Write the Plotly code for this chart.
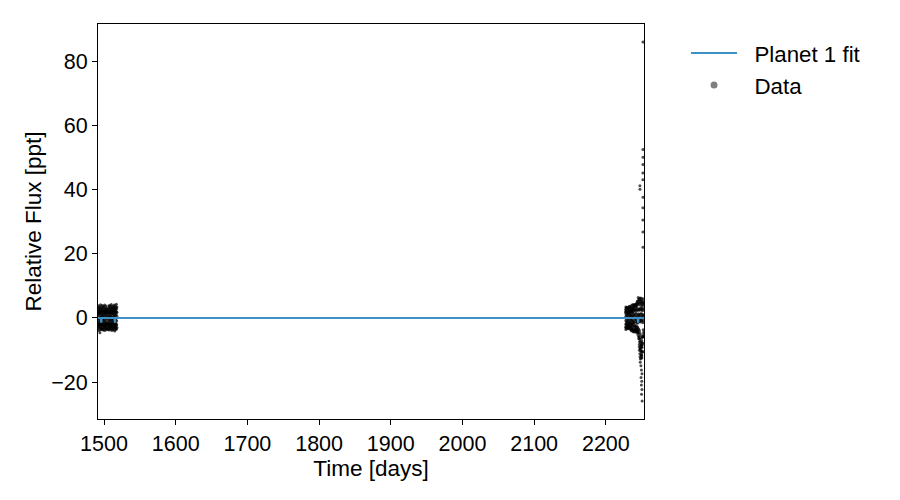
import plotly.graph_objects as go

# ---- data (days, ppt) ----
t_c1 = [1491.7, 1492.1, 1492.5, 1493.0, 1493.4, 1493.9, 1494.3, 1494.7, 1495.2, 1495.6,
        1496.1, 1496.5, 1496.9, 1497.4, 1497.8, 1498.3, 1498.7, 1499.1, 1499.6, 1500.0,
        1500.5, 1500.9, 1501.3, 1501.8, 1502.2, 1502.7, 1503.1, 1503.5, 1504.0, 1504.4,
        1504.9, 1505.3, 1505.7, 1506.2, 1506.6, 1507.1, 1507.5, 1507.9, 1508.4, 1508.8,
        1509.3, 1509.7, 1510.1, 1510.6, 1511.0, 1511.5, 1511.9, 1512.3, 1512.8, 1513.2,
        1513.7, 1514.1, 1514.5, 1515.0, 1515.4, 1515.9, 1516.3, 1516.7, 1517.2, 1517.6, 1518.0]
f_c1_a = [3.1, 2.4, 3.8, 2.9, 1.7, 3.5, 2.2, 3.0, 4.1, 2.6, 1.9, 3.3, 2.8, 3.9, 2.1, 3.4, 2.7, 1.8, 3.6, 2.5,
          3.2, 4.0, 2.3, 2.9, 1.6, 3.7, 2.4, 3.1, 2.0, 2.6, 1.5, 2.2, 1.8, 3.0, 3.8, 2.7, 3.4, 2.1, 3.9, 2.8,
          3.3, 2.5, 4.2, 3.0, 2.2, 3.6, 2.9, 1.9, 3.5, 2.4, 3.1, 4.0, 2.7, 3.3, 2.0, 3.8, 2.6, 3.2, 4.3, 2.8, 3.4]
f_c1_b = [0.4, -0.8, 1.2, -0.3, 0.9, -1.1, 0.2, 1.4, -0.6, 0.7, -1.3, 0.1, 1.0, -0.4, 0.6, -0.9, 1.3, -0.2, 0.5, -1.0,
          0.8, -0.5, 1.1, 0.0, -1.2, 0.3, 0.9, -0.7, 1.5, -0.1, 0.6, -1.4, 0.2, 1.0, -0.6, 0.4, -0.9, 1.2, -0.3, 0.7,
          -1.1, 0.5, 1.3, -0.5, 0.1, -0.8, 0.9, -0.2, 1.4, -1.0, 0.3, 0.6, -1.3, 1.1, -0.4, 0.8, -0.7, 0.0, 1.2, -0.9, 0.5]
f_c1_c = [-2.8, -3.4, -2.1, -3.9, -2.6, -3.1, -4.6, -2.4, -3.7, -2.9, -3.3, -2.0, -3.6, -2.7, -3.2, -2.3, -3.8, -2.5, -3.0, -3.5,
          -2.2, -3.9, -2.8, -3.1, -2.6, -3.4, -2.1, -3.7, -2.9, -3.3, -2.4, -3.6, -2.0, -3.2, -2.7, -3.8, -2.5, -3.0, -3.4, -2.2,
          -3.6, -2.8, -3.1, -2.6, -3.9, -2.3, -3.5, -2.9, -3.2, -2.4, -3.7, -2.7, -3.0, -4.1, -2.5, -3.3, -2.8, -3.6, -2.1, -3.4, -2.9]
f_c1_d = [1.8, -1.6, 2.0, -1.9, 1.5, -2.1, 1.7, -1.5, 2.2, -1.8, 1.6, -2.0, 1.9, -1.7, 2.1, -1.6, 1.5, -2.2, 1.8, -1.9,
          2.0, -1.5, 1.7, -2.1, 1.6, -1.8, 2.2, -1.7, 1.9, -2.0, 1.5, -1.6, 2.1, -1.9, 1.8, -2.2, 1.6, -1.5, 2.0, -1.8,
          1.7, -2.1, 1.9, -1.6, 2.2, -1.7, 1.5, -2.0, 1.8, -1.9, 2.1, -1.5, 1.6, -2.2, 2.0, -1.8, 1.7, -1.6, 1.9, -2.1, 1.8]

t_c2 = [2227.4, 2227.8, 2228.2, 2228.7, 2229.1, 2229.5, 2230.0, 2230.4, 2230.8, 2231.3,
        2231.7, 2232.1, 2232.6, 2233.0, 2233.4, 2233.9, 2234.3, 2234.7, 2235.2, 2235.6,
        2236.0, 2236.5, 2236.9, 2237.3, 2237.8, 2238.2, 2238.6, 2239.1, 2239.5, 2239.9,
        2240.4, 2240.8, 2241.2, 2241.7, 2242.1, 2242.5, 2243.0, 2243.4, 2243.8, 2244.3,
        2244.7, 2245.1, 2245.6, 2246.0, 2246.4, 2246.9, 2247.3, 2247.7, 2248.2, 2248.6,
        2249.0, 2249.5, 2249.9, 2250.3, 2250.8, 2251.2, 2251.6, 2252.1, 2252.5, 2252.9]
f_c2_a = [2.6, 3.4, 1.9, 3.1, 2.7, 3.3, 2.2, 3.0, 2.9, 1.8, 3.3, 2.5, 3.6, 2.1, 3.0, 2.8, 3.5, 2.3, 3.7, 2.6,
          3.2, 4.0, 2.4, 3.1, 2.9, 4.2, 3.5, 3.8, 3.9, 4.1, 3.4, 3.7, 4.3, 4.1, 3.9, 3.6, 4.6, 4.5, 5.2, 4.0,
          5.2, 6.4, 4.7, 5.8, 4.3, 5.5, 6.0, 4.6, 5.1, 3.9, 5.7, 4.8, 6.1, 4.4, 5.3, 3.8, 5.0, 4.2, 5.9, 4.6]
f_c2_b = [0.3, -0.9, 1.1, -0.4, 0.8, -1.2, 0.2, 1.3, -0.7, 0.6, -1.0, 0.0, 1.2, -0.5, 0.7, -1.3, 0.9, -0.1, 0.4, -0.8,
          1.0, -0.6, 0.5, -1.1, 0.1, 1.4, -0.9, 0.6, -1.5, 1.1, -0.3, 0.8, -1.2, 1.5, -0.6, 0.2, -1.4, 1.0, -0.8, 0.4,
          -1.6, 1.3, -0.2, 0.7, -1.1, 0.9, -0.5, 1.2, -1.3, 0.3, -0.7, 1.4, -1.0, 0.6, -0.4, 1.1, -1.5, 0.5, -0.9, 0.8]
f_c2_c = [-2.9, -3.6, -2.2, -3.1, -2.8, -3.4, -2.6, -3.0, -3.3, -2.4, -3.3, -2.8, -2.8, -3.1, -3.4, -3.1, -2.5, -3.7, -2.9, -4.0,
          -3.4, -2.3, -3.8, -3.0, -4.2, -3.5, -4.0, -4.4, -3.8, -3.7, -4.1, -3.9, -3.5, -4.4, -3.6, -4.2, -3.6, -4.1, -4.8, -4.2,
          -4.2, -5.5, -4.8, -6.5, -5.9, -8.2, -6.6, -9.4, -7.3, -10.1, -8.5, -11.6, -9.0, -12.4, -7.8, -10.7, -6.0, -5.6, -4.9, -5.8]
f_c2_d = [1.7, -1.9, 2.1, -1.5, 1.6, -2.2, 1.9, -1.7, 2.0, -1.6, 1.5, -2.1, 1.8, -2.0, 2.2, -1.5, 1.7, -1.8, 2.1, -1.9,
          1.6, -2.2, 1.9, -1.6, 2.0, -1.8, 2.4, -2.6, 2.8, -2.3, 2.5, -2.9, 2.2, -2.7, 3.0, -2.4, 2.6, -3.1, 2.3, -2.8,
          2.9, -3.3, 2.5, -3.6, 2.7, -4.0, 2.4, -4.8, 3.1, -5.5, 2.6, -6.3, 2.9, -7.1, 2.2, -5.9, 3.0, -3.7, 2.5, -4.4]

# end of second segment: dense low scatter, sparse deep points and upward outliers
t_tail = [2246.2, 2246.6, 2247.0, 2247.4, 2247.8, 2248.2, 2248.6, 2249.0, 2249.4, 2249.8,
          2250.2, 2250.6, 2251.0, 2251.4, 2246.8, 2247.6, 2248.4, 2249.2, 2250.0, 2250.8,
          2248.0, 2248.9, 2249.6, 2250.4, 2249.1, 2250.1, 2249.5, 2250.3, 2249.8, 2250.6,
          2251.7, 2251.7, 2251.8, 2251.7, 2251.6, 2251.7, 2251.8, 2251.7, 2251.6, 2251.7, 2251.8,
          2247.5, 2247.6, 2247.9]
f_tail = [-6.2, -8.9, -7.4, -11.2, -9.6, -12.8, -7.9, -10.4, -11.5, -8.6,
          -11.8, -9.2, -10.3, -7.9, -10.1, -12.1, -9.3, -12.6, -10.7, -8.4,
          -13.8, -14.9, -16.2, -17.4, -18.6, -19.7, -20.9, -22.3, -23.8, -25.9,
          86.0, 52.5, 50.1, 47.8, 45.2, 43.1, 37.6, 34.3, 30.5, 26.8, 22.0,
          41.2, 40.1, 6.2]

# Planet 1 transit model
t_model = [1491.6, 1495.7, 1495.8, 1496.3, 1496.4, 1514.9, 1515.0, 1515.5, 1515.6,
           2244.6, 2244.7, 2245.2, 2245.3, 2253.2]
f_model = [0.0, 0.0, -1.2, -1.2, 0.0, 0.0, -1.2, -1.2, 0.0,
           0.0, -1.2, -1.2, 0.0, 0.0]

x_range = [1491.6, 2253.2]
y_range = [-31.5, 91.6]
x_ticks = [1500, 1600, 1700, 1800, 1900, 2000, 2100, 2200]
y_ticks = [-20, 0, 20, 40, 60, 80]

t_all = t_c1 * 4 + t_c2 * 4 + t_tail
f_all = f_c1_a + f_c1_b + f_c1_c + f_c1_d + f_c2_a + f_c2_b + f_c2_c + f_c2_d + f_tail

FONT = "Liberation Sans, Arial, sans-serif"
NB = "\u00a0\u00a0"
TICK_SIZE = 21.5
LABEL_SIZE = 22.5

fig = go.Figure()
fig.add_trace(go.Scatter(
    x=t_all, y=f_all, mode="markers", showlegend=False,
    marker=dict(color="rgba(0,0,0,0.7)", size=3, line=dict(width=0)),
))
fig.add_trace(go.Scatter(
    x=t_model, y=f_model, mode="lines", name=NB + "Planet 1 fit",
    line=dict(color="#3d91c6", width=2), legendgroup="fit",
))
fig.add_trace(go.Scatter(
    x=[None], y=[None], mode="markers", name=NB + "Data", legendgroup="data",
    marker=dict(color="rgba(0,0,0,0.5)", size=7),
))

axis_common = dict(
    showline=True, linecolor="black", linewidth=1, mirror=True,
    ticks="outside", ticklen=5, tickwidth=1, tickcolor="black",
    showgrid=False, zeroline=False, automargin=False,
    tickfont=dict(family=FONT, size=TICK_SIZE, color="black"),
)
fig.update_xaxes(range=x_range, tickvals=x_ticks,
                 title=dict(text="Time [days]", font=dict(family=FONT, size=LABEL_SIZE, color="black"), standoff=1),
                 **axis_common)
fig.update_yaxes(range=y_range, tickvals=y_ticks,
                 title=dict(text="Relative Flux [ppt]", font=dict(family=FONT, size=LABEL_SIZE, color="black"), standoff=3),
                 **axis_common)

fig.update_layout(
    width=900, height=500,
    margin=dict(l=98, r=256, t=24, b=81),
    paper_bgcolor="white", plot_bgcolor="white",
    font=dict(family=FONT, size=TICK_SIZE, color="black"),
    legend=dict(x=1.077, y=0.98, xanchor="left", yanchor="top",
                font=dict(family=FONT, size=22.3, color="black"),
                bgcolor="rgba(0,0,0,0)", itemwidth=46,
                traceorder="grouped", tracegroupgap=0),
)

fig.write_html("out.html", config={"displayModeBar": False},
               post_script="document.body.style.margin='0px';")
